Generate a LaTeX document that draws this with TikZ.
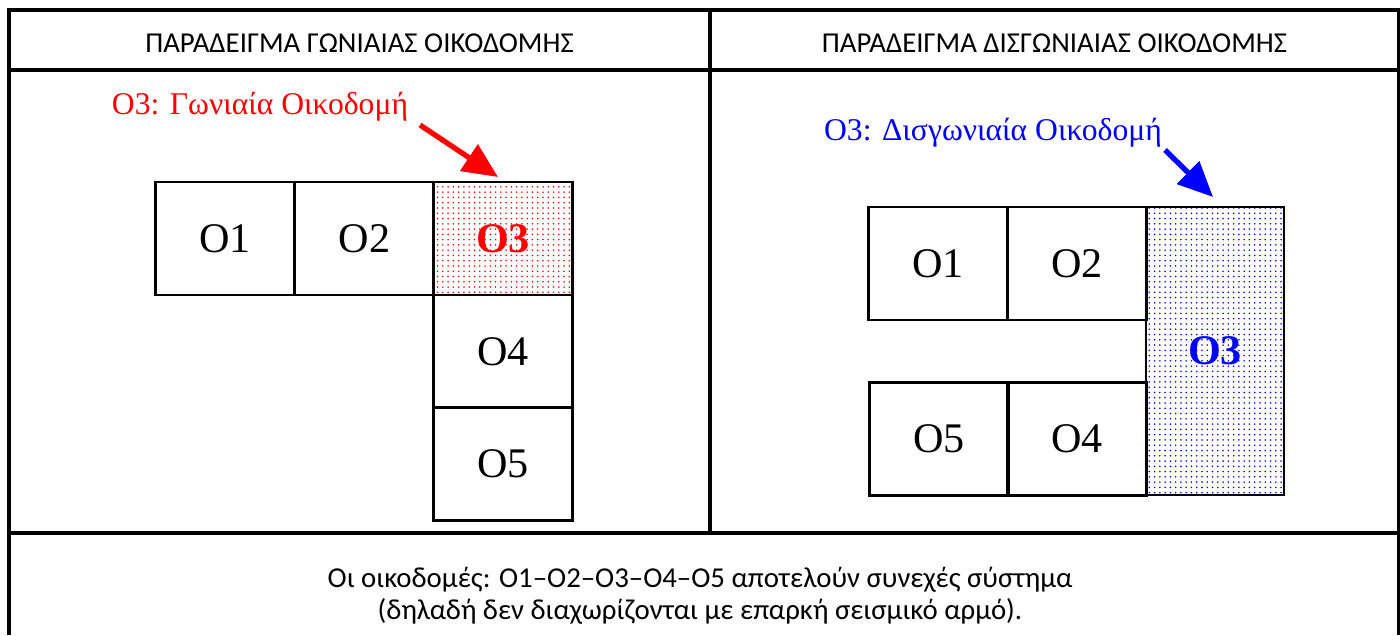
\documentclass[tikz,border=0pt]{standalone}
\usepackage{fontspec}
\setmainfont{Liberation Serif}
\newfontfamily\calfont{Carlito}
\usetikzlibrary{arrows.meta,patterns}
\definecolor{MarkRed}{HTML}{FF0000}
\definecolor{MarkBlue}{HTML}{0000FF}
\begin{document}
\begin{tikzpicture}[
  cell/.style={rectangle, draw=black, line width=1.4pt, minimum width=2.78cm, minimum height=2.26cm, inner sep=0pt, outer sep=0pt, font=\fontsize{24}{28}\selectfont},
  frame/.style={line width=2pt},
  head/.style={font=\calfont\fontsize{16.4}{19}\selectfont},
  tag/.style={font=\fontsize{18}{21}\selectfont, inner sep=0pt},
  pointer/.style={-{Triangle[length=0.7cm,width=0.62cm]}, line width=3pt}
]
\useasboundingbox (0,0) rectangle (28,12.7);
% table
\draw[frame] (0.18,0) -- (0.18,12.5) -- (27.97,12.5) -- (27.97,0);
\draw[frame] (0.18,11.3) -- (27.97,11.3);
\draw[frame] (0.18,2.04) -- (27.97,2.04);
\draw[frame] (14.2,12.5) -- (14.2,2.04);
\node[head] (headL) at (7.19,11.83) {ΠΑΡΑΔΕΙΓΜΑ ΓΩΝΙΑΙΑΣ ΟΙΚΟΔΟΜΗΣ};
\node[head] (headR) at (21.09,11.83) {ΠΑΡΑΔΕΙΓΜΑ ΔΙΣΓΩΝΙΑΙΑΣ ΟΙΚΟΔΟΜΗΣ};
\node[head, align=center] (note) at (14.0,0.78) {Οι οικοδομές: Ο1–Ο2–Ο3–Ο4–Ο5 αποτελούν συνεχές σύστημα\\[-1pt](δηλαδή δεν διαχωρίζονται με επαρκή σεισμικό αρμό).};
% corner building
\node[cell] (a1) at (4.5,7.93) {O1};
\node[cell] (a2) at (7.29,7.93) {O2};
\node[cell, pattern=dots, pattern color=MarkRed, text=MarkRed, font=\fontsize{24}{28}\selectfont\bfseries] (a3) at (10.06,7.93) {O3};
\node[cell] (a4) at (10.06,5.67) {O4};
\node[cell] (a5) at (10.06,3.42) {O5};
\node[tag, text=MarkRed] (tagA) at (5.2,10.57) {O3: Γωνιαία Οικοδομή};
\coordinate (startA) at (8.4,10.2);
\draw[pointer, draw=MarkRed, fill=MarkRed] (startA) -- ([xshift=-0.1cm,yshift=0.1cm]a3.north);
% double-corner building
\node[cell] (b1) at (18.76,7.43) {O1};
\node[cell] (b2) at (21.54,7.43) {O2};
\node[cell, minimum width=2.76cm, minimum height=5.76cm, pattern=dots, pattern color=MarkBlue, text=MarkBlue, font=\fontsize{24}{28}\selectfont\bfseries] (b3) at (24.3,5.68) {O3};
\node[cell] (b5) at (18.78,3.92) {O5};
\node[cell] (b4) at (21.54,3.92) {O4};
\node[tag, text=MarkBlue] (tagB) at (19.86,10.04) {O3: Δισγωνιαία Οικοδομή};
\coordinate (startB) at (23.3,9.7);
\draw[pointer, draw=MarkBlue, fill=MarkBlue] (startB) -- ([xshift=-0.04cm,yshift=0.2cm]b3.north);
\end{tikzpicture}
\end{document}
